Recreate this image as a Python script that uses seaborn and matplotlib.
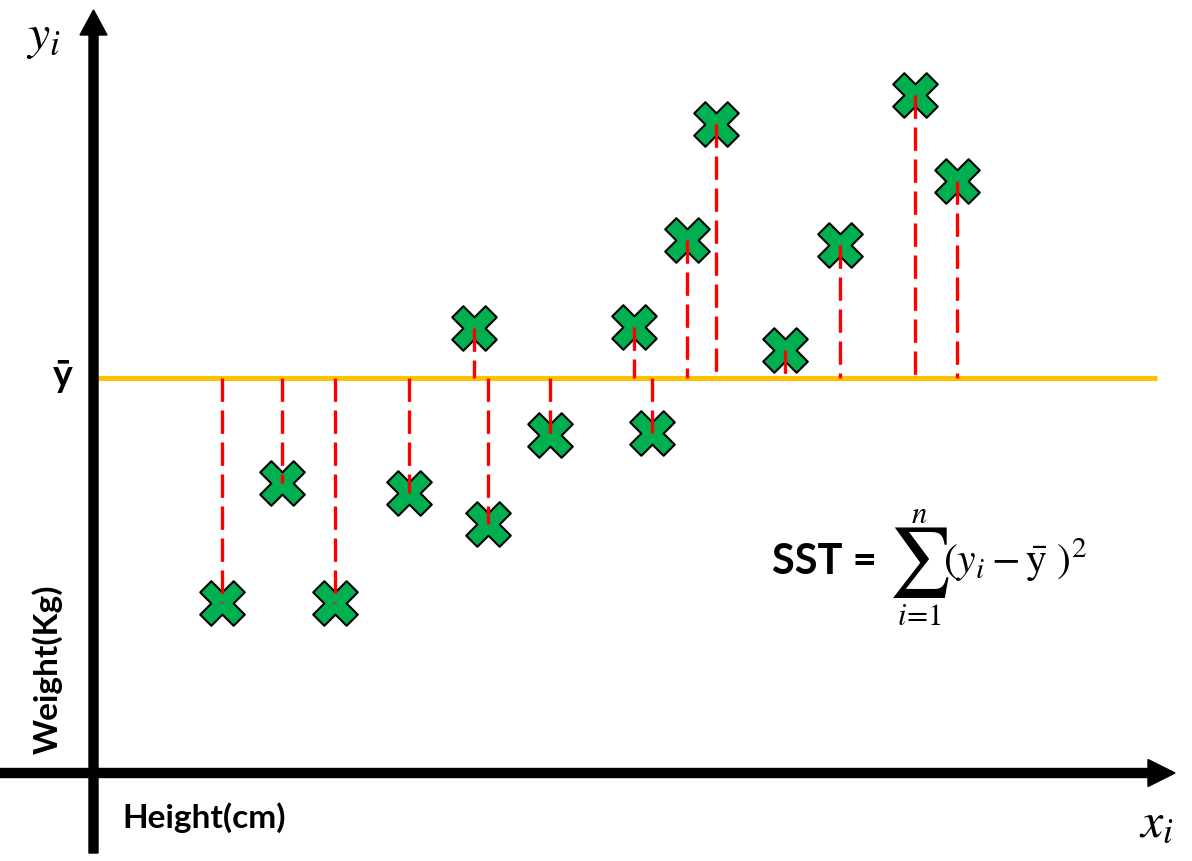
"""SST illustration: deviations of each point from the mean line"""

import matplotlib
matplotlib.use("Agg")
import matplotlib.pyplot as plt
import pandas as pd
import seaborn as sns

# data (height, weight) in chart units, origin at the axis crossing
heights = [129, 189, 242, 316, 381, 395, 457, 541, 559, 594, 623, 692, 747, 822, 864]
weights = [170, 290, 170, 280, 445, 249, 338, 446, 340, 533, 649, 423, 528, 678, 592]
y_bar = 395

x_label = "Height(cm)"
y_label = "Weight(Kg)"

sns.set_style("white")
plt.rcParams["font.family"] = ["Lato", "DejaVu Sans"]
plt.rcParams["mathtext.fontset"] = "stix"
plt.rcParams["text.color"] = "black"

df = pd.DataFrame({"height": heights, "weight": weights})

fig = plt.figure(figsize=(11.92, 8.61), dpi=100)
ax = fig.add_axes([0, 0, 1, 1])
ax.set_xlim(-93, 1099)
ax.set_ylim(-88, 773)
ax.axis("off")

# axes drawn as arrows
ax.arrow(-93, 0, 1175, 0, width=9, head_width=27, head_length=27,
         length_includes_head=True, color="black", zorder=5)
ax.arrow(0.5, -80, 0, 843, width=9, head_width=27, head_length=25,
         length_includes_head=True, color="black", zorder=5)

# mean line
ax.plot([4, 1064], [y_bar, y_bar], color="#FFC000", lw=3.6, zorder=2, solid_capstyle="butt")

# points
sns.scatterplot(data=df, x="height", y="weight", marker="X", s=1030, color="#00B050",
                edgecolor="black", linewidth=1.5, ax=ax, zorder=3, legend=False)

# deviations to the mean
for h, w in zip(heights, weights):
    top, bottom = max(w, y_bar), min(w, y_bar)
    ax.plot([h, h], [top, bottom], color="red", lw=2.4, dashes=(7, 2.6), zorder=4)

# labels
ax.text(-50, 735, r"$y_i$", fontsize=36, ha="center", va="center")
ax.text(1063, -49, r"$x_i$", fontsize=36, ha="center", va="center")
ax.text(-30, 397, "ȳ", fontsize=27, fontweight="bold", ha="center", va="center")
ax.text(-46, 104, y_label, fontsize=24, fontweight="bold", rotation=90, ha="center", va="center")
ax.text(111, -45, x_label, fontsize=24, fontweight="bold", ha="center", va="center")

# formula
ax.text(784, 211, "SST =", fontsize=30, fontweight="bold", ha="right", va="center")
ax.text(826, 210, r"$\sum$", fontsize=50, ha="center", va="center")
ax.text(826, 259, r"$n$", fontsize=22, ha="center", va="center")
ax.text(826, 157, r"$i\!=\!1$", fontsize=22, ha="center", va="center")
ax.text(850, 213, r"$(y_i - \bar{\mathrm{y}}\ )^2$", fontsize=30, ha="left", va="center")

fig.savefig("out.png", dpi=100)
